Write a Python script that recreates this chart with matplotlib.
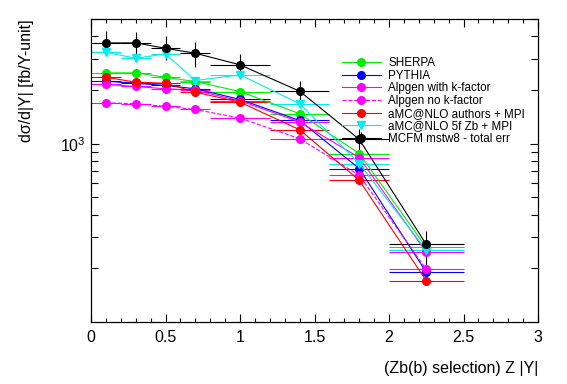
import matplotlib
matplotlib.use("Agg")
import matplotlib.pyplot as plt
from matplotlib.ticker import (LogLocator, NullFormatter, MultipleLocator,
                               FixedLocator, FormatStrFormatter)

plt.rcParams['font.family'] = ['Liberation Sans', 'DejaVu Sans']
plt.rcParams['mathtext.fontset'] = 'custom'
plt.rcParams['mathtext.rm'] = 'Liberation Sans'

# |Y| bins (centre and half width)
y_abs = [0.1, 0.3, 0.5, 0.7, 1.0, 1.4, 1.8, 2.25]
half_width = [0.1, 0.1, 0.1, 0.1, 0.2, 0.2, 0.2, 0.25]

# dsigma/d|Y| in fb per unit Y
sherpa = [2494, 2494, 2358, 2230, 1960, 1472, 880, 262]
pythia = [2240, 2180, 2120, 2031, 1770, 1349, 725, 190]
alpgen_k = [2148, 2092, 2031, 1990, 1740, 1322, 835, 246]
alpgen_nok = [1694, 1674, 1617, 1555, 1391, 1066, 665, 197]
amc_authors = [2358, 2211, 2183, 1944, 1709, 1197, 623, 170]
amc_5f = [3252, 3013, 3185, 2260, 2432, 1674, 773, 253]
mcfm = [3673, 3673, 3425, 3213, 2767, 1968, 1057, 272]
mcfm_lo = [3200, 3150, 2950, 2700, 2380, 1700, 920, 205]
mcfm_hi = [4300, 4250, 4000, 3700, 3190, 2260, 1210, 325]

series = [
    ("SHERPA", sherpa, "#00ee00", "-", "o"),
    ("PYTHIA", pythia, "#0000ff", "-", "o"),
    ("Alpgen with k-factor", alpgen_k, "#ff00ff", "-", "o"),
    ("Alpgen no k-factor", alpgen_nok, "#ff00ff", "--", "o"),
    ("aMC@NLO authors + MPI", amc_authors, "#ff0000", "-", "o"),
    ("aMC@NLO 5f Zb + MPI", amc_5f, "#00eeee", "-", "v"),
]

fig = plt.figure(figsize=(5.67, 3.84), dpi=100)
ax = fig.add_axes([0.1605, 0.1615, 0.7885, 0.789])

for name, vals, col, ls, mk in series:
    ax.errorbar(y_abs, vals, xerr=half_width, color=col, ls=ls, lw=0.8,
                marker=mk, ms=5.5, elinewidth=0.8, capsize=0, label=name)

err = [[m - lo for m, lo in zip(mcfm, mcfm_lo)],
       [hi - m for m, hi in zip(mcfm, mcfm_hi)]]
ax.errorbar(y_abs, mcfm, xerr=half_width, yerr=err, color="black", ls="-",
            lw=0.8, marker="o", ms=5.5, elinewidth=0.8, capsize=0,
            label="MCFM mstw8 - total err")

ax.set_yscale("log")
ax.set_xlim(0, 3)
ax.set_ylim(100, 5000)

ax.xaxis.set_major_locator(MultipleLocator(0.5))
ax.xaxis.set_minor_locator(MultipleLocator(0.1))
ax.xaxis.set_major_formatter(FormatStrFormatter("%g"))
ax.yaxis.set_major_locator(FixedLocator([1000]))
ax.yaxis.set_minor_locator(LogLocator(base=10, subs=range(2, 10)))
ax.yaxis.set_minor_formatter(NullFormatter())
ax.set_yticklabels([r"$10^{3}$"])

ax.tick_params(which="both", direction="in", top=True, right=True,
               labelsize=11.5, width=0.8)
ax.tick_params(which="major", length=6)
ax.tick_params(which="minor", length=3)
ax.tick_params(axis="y", which="minor", length=5)
ax.tick_params(axis="x", pad=6)
for s in ax.spines.values():
    s.set_linewidth(0.9)

ax.set_xlabel("(Zb(b) selection) Z |Y|", fontsize=11.5, loc="right", labelpad=11)
ax.set_ylabel("dσ/d|Y| [fb/Y-unit]", fontsize=11.5, loc="top", labelpad=19)

ax.legend(loc="upper left", bbox_to_anchor=(0.55, 0.889), frameon=False,
          fontsize=8.4, handlelength=3.4, handletextpad=0.6, labelspacing=0.05,
          borderaxespad=0)

fig.savefig("out.png", dpi=100)
